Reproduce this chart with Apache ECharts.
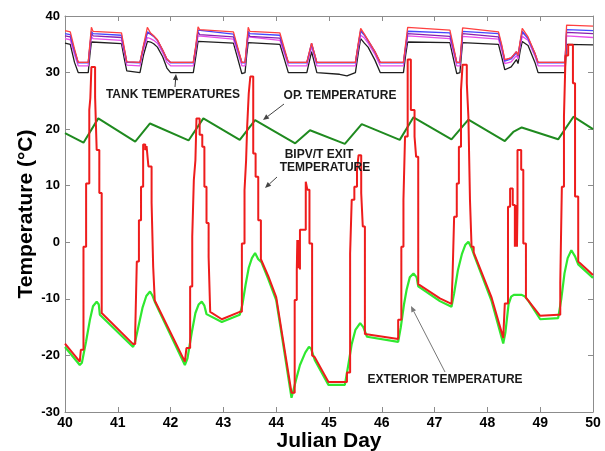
<!DOCTYPE html>
<html>
<head>
<meta charset="UTF-8">
<title>BIPV/T temperatures</title>
<style>
  html, body { margin: 0; padding: 0; background: #fff; }
  #main { width: 605px; height: 451px; }
</style>
</head>
<body>
<div id="main"></div>
<script src="https://cdn.jsdelivr.net/npm/echarts@6.0.0/dist/echarts.min.js"></script>
<script>
// tank temperatures share one day grid
var tankDay = [
  40.00, 40.10, 40.18, 40.25, 40.44, 40.47, 40.50, 40.53, 41.07, 41.12,
  41.17, 41.20, 41.42, 41.49, 41.56, 41.62, 41.68, 41.75, 41.85, 41.93,
  42.00, 42.43, 42.48, 42.52, 42.55, 43.19, 43.27, 43.35, 43.41, 43.44,
  43.47, 43.50, 44.07, 44.15, 44.23, 44.58, 44.67, 44.77, 45.20, 45.34,
  45.50, 45.56, 45.60, 45.67, 45.74, 45.87, 45.97, 46.41, 46.45, 46.49,
  47.29, 47.36, 47.42, 47.48, 47.51, 47.53, 48.21, 48.27, 48.33, 48.45,
  48.55, 48.58, 48.62, 48.66, 48.77, 48.90, 48.96, 49.47, 49.50, 50.00
];
var tankRed = [
  37.4, 37.2, 34.2, 31.8, 31.8, 35.0, 38.0, 37.3, 37.0, 34.5,
  31.9, 31.8, 31.8, 35.0, 38.0, 37.0, 36.5, 35.8, 34.0, 32.4,
  31.8, 31.8, 35.0, 38.1, 37.6, 37.2, 34.5, 31.8, 31.8, 35.0,
  38.0, 37.3, 37.0, 34.4, 31.8, 31.8, 35.2, 31.8, 31.8, 31.8,
  31.8, 35.5, 37.8, 36.8, 35.7, 33.7, 31.8, 31.8, 35.0, 38.0,
  37.5, 34.5, 31.8, 31.8, 35.5, 37.9, 37.2, 35.0, 32.3, 32.6,
  33.7, 33.0, 35.5, 37.8, 36.3, 33.4, 31.8, 31.8, 38.4, 38.2
];
var tankBlue = [
  36.9, 36.7, 33.8, 31.7, 31.7, 34.6, 37.3, 36.9, 36.6, 34.2,
  31.8, 31.7, 31.7, 34.8, 37.2, 36.9, 36.4, 35.7, 33.9, 32.3,
  31.7, 31.7, 34.7, 37.5, 37.2, 36.8, 34.2, 31.7, 31.7, 34.6,
  37.3, 36.9, 36.6, 34.1, 31.7, 31.7, 35.0, 31.7, 31.7, 31.7,
  31.7, 35.2, 37.3, 36.6, 35.6, 33.6, 31.7, 31.7, 34.6, 37.3,
  37.0, 34.2, 31.7, 31.7, 35.0, 37.3, 36.9, 34.7, 32.0, 32.4,
  33.5, 32.9, 35.2, 37.3, 36.0, 33.3, 31.7, 31.7, 37.6, 37.4
];
var tankPurple = [
  36.5, 36.3, 33.9, 31.8, 31.8, 34.4, 37.0, 36.5, 36.2, 34.2,
  31.9, 31.8, 31.8, 34.7, 37.0, 36.8, 36.4, 35.7, 34.0, 32.4,
  31.8, 31.8, 34.6, 37.2, 36.7, 36.3, 34.2, 31.8, 31.8, 34.4,
  37.0, 36.4, 36.1, 34.0, 31.8, 31.8, 35.2, 31.8, 31.8, 31.8,
  31.8, 35.3, 37.5, 36.7, 35.7, 33.7, 31.8, 31.8, 34.4, 36.9,
  36.4, 34.1, 31.8, 31.8, 34.9, 36.9, 36.3, 34.6, 32.2, 32.6,
  33.7, 33.0, 35.3, 37.1, 36.1, 33.4, 31.8, 31.8, 37.1, 36.9
];
var tankMagenta = [
  36.0, 35.8, 33.2, 31.2, 31.2, 34.0, 36.4, 36.0, 35.7, 33.6,
  31.3, 31.2, 31.2, 34.2, 36.2, 36.0, 35.7, 35.2, 33.5, 31.8,
  31.2, 31.2, 34.1, 36.5, 36.2, 35.9, 33.6, 31.2, 31.2, 34.0,
  36.3, 36.0, 35.7, 33.5, 31.2, 31.2, 34.6, 31.2, 31.2, 31.2,
  31.2, 34.6, 36.6, 36.1, 35.2, 33.2, 31.2, 31.2, 34.0, 36.5,
  36.0, 33.5, 31.2, 31.2, 34.4, 36.4, 35.9, 34.0, 31.6, 31.9,
  33.0, 32.4, 34.6, 36.4, 35.7, 32.9, 31.2, 31.2, 36.5, 36.2
];
var tankBlack = [
  35.2, 35.0, 31.8, 30.0, 30.0, 33.0, 35.4, 35.3, 35.1, 32.6,
  30.3, 30.0, 30.0, 33.2, 35.5, 35.4, 35.1, 34.5, 32.8, 30.8,
  30.0, 30.0, 33.0, 35.5, 35.4, 35.2, 32.5, 29.8, 30.0, 33.0,
  35.3, 35.1, 35.0, 32.5, 30.0, 30.0, 33.7, 30.0, 29.7, 29.4,
  30.0, 33.8, 36.0, 35.2, 34.5, 32.2, 30.0, 30.0, 33.0, 35.4,
  35.3, 32.3, 29.8, 30.0, 33.3, 35.3, 35.0, 32.8, 30.5, 31.0,
  32.3, 31.6, 33.8, 35.5, 34.8, 31.8, 30.0, 30.0, 35.0, 34.9
];

// operative (room) temperature [day, degC]
var opTemp = [
  [40.00, 19.3], [40.35, 17.6], [40.63, 21.9], [41.33, 17.8], [41.61, 21.0],
  [42.34, 18.0], [42.62, 21.9], [43.31, 18.1], [43.60, 21.6], [44.36, 17.5],
  [44.64, 19.8], [45.30, 17.4], [45.62, 20.9], [46.34, 18.1], [46.60, 22.1],
  [47.32, 18.2], [47.64, 21.7], [48.33, 17.9], [48.49, 19.5], [48.65, 20.3],
  [49.34, 18.2], [49.63, 22.2], [50.00, 20.0]
];

// exterior temperature [day, degC]
var extTemp = [
  [40.00, -18.5], [40.28, -21.7], [40.32, -21.3], [40.40, -17.5], [40.47, -13.8],
  [40.53, -11.3], [40.60, -10.5], [40.64, -11.0], [40.66, -12.8], [41.29, -18.5],
  [41.33, -17.5], [41.40, -14.5], [41.47, -11.5], [41.54, -9.5], [41.61, -8.7],
  [41.66, -9.5], [41.70, -10.5], [42.27, -21.7], [42.32, -20.5], [42.40, -16.0],
  [42.47, -12.5], [42.53, -11.0], [42.59, -10.5], [42.64, -11.2], [42.68, -12.7],
  [42.97, -14.1], [43.31, -12.8], [43.36, -11.0], [43.42, -7.5], [43.48, -4.5],
  [43.54, -2.8], [43.60, -1.9], [43.66, -3.0], [43.72, -3.5], [43.85, -6.5],
  [44.00, -10.2], [44.13, -17.9], [44.29, -27.5], [44.32, -27.6], [44.37, -24.5],
  [44.45, -21.7], [44.55, -19.5], [44.62, -18.5], [44.66, -18.8], [44.73, -20.8],
  [44.99, -25.2], [45.30, -25.2], [45.36, -22.0], [45.43, -18.0], [45.50, -15.5],
  [45.59, -14.3], [45.65, -15.0], [45.72, -16.7], [46.31, -17.6], [46.36, -15.0],
  [46.42, -11.0], [46.47, -8.4], [46.53, -6.2], [46.60, -5.5], [46.66, -6.2],
  [46.69, -7.8], [47.10, -10.4], [47.32, -11.4], [47.37, -9.0], [47.44, -5.0],
  [47.52, -2.0], [47.58, -0.5], [47.64, 0.1], [47.70, -1.0], [47.75, -2.3],
  [48.08, -10.4], [48.30, -17.9], [48.34, -16.0], [48.40, -11.0], [48.45, -9.6],
  [48.50, -9.3], [48.65, -9.3], [48.71, -9.6], [48.78, -10.4], [49.00, -13.6],
  [49.34, -13.4], [49.40, -10.0], [49.46, -5.5], [49.52, -2.8], [49.59, -1.4],
  [49.66, -2.5], [49.72, -3.9], [50.00, -6.3]
];

// BIPV/T exit air temperature [day, degC], hourly steps
var exitTemp = [
  [40.00, -17.9], [40.28, -21.1], [40.30, -21.1], [40.30, -19.0], [40.35, -19.0],
  [40.35, -0.8], [40.40, -0.8], [40.40, 10.4], [40.46, 10.4], [40.46, 23.4],
  [40.48, 23.4], [40.48, 25.5], [40.50, 25.5], [40.50, 31.0], [40.57, 31.0],
  [40.57, 25.7], [40.60, 25.7], [40.60, 16.3], [40.65, 16.3], [40.65, 8.7],
  [40.695, 8.7], [40.695, -12.5],
  [41.29, -18.0], [41.33, -18.0], [41.33, -15.8], [41.36, -15.8], [41.36, -3.4],
  [41.40, -3.4], [41.40, 3.9], [41.44, 3.9], [41.44, 9.8], [41.48, 9.8],
  [41.48, 17.3], [41.52, 17.3], [41.52, 16.3], [41.545, 16.3], [41.545, 17.0],
  [41.58, 17.0], [41.58, 13.4], [41.64, 13.4], [41.64, 7.0], [41.67, 7.0],
  [41.67, -4.3], [41.70, -4.3], [41.70, -10.3],
  [42.27, -21.1], [42.30, -21.1], [42.30, -18.7], [42.37, -18.7], [42.37, -7.8],
  [42.41, -7.8], [42.41, 1.0], [42.44, 1.0], [42.44, 11.0], [42.47, 11.0],
  [42.47, 14.5], [42.49, 14.5], [42.49, 21.9], [42.55, 21.9], [42.55, 19.0],
  [42.60, 19.0], [42.60, 16.9], [42.64, 16.9], [42.64, 9.8], [42.68, 9.8],
  [42.68, 3.4], [42.72, 3.4], [42.72, -2.6], [42.75, -2.6], [42.75, -12.3],
  [42.97, -13.6], [43.31, -12.3], [43.35, -12.3], [43.35, -0.2], [43.40, -0.2],
  [43.40, 9.2], [43.43, 9.2], [43.43, 14.5], [43.45, 14.5], [43.45, 20.4],
  [43.48, 20.4], [43.48, 26.3], [43.51, 26.3], [43.51, 29.3], [43.565, 29.3],
  [43.565, 15.7], [43.61, 15.7], [43.61, 11.6], [43.66, 11.6], [43.66, 3.9],
  [43.71, 3.9], [43.71, -3.0],
  [43.85, -6.0], [44.00, -9.7], [44.13, -17.3], [44.29, -26.6], [44.35, -26.6],
  [44.35, -10.2], [44.39, -10.2], [44.39, -4.9], [44.40, 0.4], [44.41, -4.5],
  [44.42, 0.4], [44.43, -4.6], [44.44, 0.4], [44.45, -4.8], [44.45, 2.2],
  [44.56, 2.2], [44.56, 10.7], [44.59, 10.7], [44.59, 9.3], [44.63, 9.3],
  [44.63, -0.2], [44.68, -0.2], [44.68, -20.0],
  [44.73, -20.3], [44.99, -24.7], [45.34, -24.7], [45.34, -23.0], [45.40, -23.0],
  [45.40, -2.0], [45.43, -2.0], [45.43, 7.5], [45.48, 7.5], [45.48, 9.8],
  [45.53, 9.8], [45.53, 12.8], [45.56, 12.8], [45.56, 15.4], [45.61, 15.4],
  [45.61, 8.7], [45.64, 8.7], [45.64, 2.8], [45.68, 2.8], [45.68, -16.2],
  [46.31, -17.1], [46.31, -13.7], [46.37, -13.7], [46.37, -0.8], [46.41, -0.8],
  [46.41, 7.5], [46.44, 7.5], [46.44, 18.7], [46.49, 18.7], [46.49, 32.3],
  [46.55, 32.3], [46.55, 23.4], [46.62, 23.4], [46.62, 18.7], [46.65, 18.7],
  [46.65, 15.1], [46.69, 15.1], [46.69, -7.4],
  [47.10, -9.9], [47.32, -10.9], [47.34, -10.9], [47.34, -6.0], [47.37, -6.0],
  [47.37, 4.5], [47.42, 4.5], [47.42, 10.4], [47.46, 10.4], [47.46, 16.9],
  [47.50, 16.9], [47.50, 26.9], [47.53, 26.9], [47.53, 31.4], [47.61, 31.4],
  [47.61, 28.1], [47.64, 28.1], [47.64, 22.2], [47.67, 22.2], [47.67, 7.5],
  [47.70, 7.5], [47.70, -0.8], [47.74, -0.8], [47.74, -1.8],
  [48.08, -9.8], [48.30, -16.9], [48.33, -16.9], [48.33, -10.8], [48.39, -10.8],
  [48.39, 6.3], [48.43, 6.3], [48.43, 9.5], [48.48, 9.5], [48.48, 6.6],
  [48.52, 6.6], [48.52, -0.8], [48.53, 6.6], [48.54, -0.8], [48.55, 6.6],
  [48.56, -0.8], [48.57, 6.6], [48.57, 16.3], [48.64, 16.3], [48.64, 12.8],
  [48.68, 12.8], [48.68, -0.2], [48.73, -0.2], [48.73, -9.8],
  [49.00, -13.0], [49.34, -12.8], [49.38, -12.8], [49.38, -7.2], [49.41, -7.2],
  [49.41, 9.8], [49.45, 9.8], [49.45, 22.2], [49.48, 22.2], [49.48, 33.0],
  [49.53, 33.0], [49.53, 34.9], [49.62, 34.9], [49.62, 28.1], [49.66, 28.1],
  [49.66, 8.1], [49.72, 8.1], [49.72, -3.4], [50.00, -5.8]
];

var font = 'Liberation Sans';

function pairs(days, vals) {
  return days.map(function (d, i) { return [d, vals[i]]; });
}

function line(name, data, color, width, z) {
  return {
    name: name, type: 'line', data: data, showSymbol: false, symbol: 'none',
    lineStyle: { color: color, width: width }, z: z, silent: true
  };
}

// small annotation arrow, head at (x2, y2)
function arrow(x1, y1, x2, y2, color) {
  var a = Math.atan2(y2 - y1, x2 - x1), L = 6, W = 2.6;
  var bx = x2 - L * Math.cos(a), by = y2 - L * Math.sin(a);
  return [
    { type: 'line', shape: { x1: x1, y1: y1, x2: bx, y2: by }, style: { stroke: color, lineWidth: 1 }, z: 50 },
    { type: 'polygon', shape: { points: [[x2, y2],
        [bx + W * Math.sin(a), by - W * Math.cos(a)],
        [bx - W * Math.sin(a), by + W * Math.cos(a)]] }, style: { fill: color }, z: 50 }
  ];
}

function label(text, x, y) {
  return { type: 'text', z: 50, style: { text: text, x: x, y: y, align: 'center', verticalAlign: 'middle',
    fontSize: 12, fontWeight: 'bold', fontFamily: font, fill: '#1a1a1a' } };
}

var axisGray = '#8c8c8c';
var titleStyle = { color: '#000', fontSize: 21, fontWeight: 'bold', fontFamily: font };

var chart = echarts.init(document.getElementById('main'));
chart.setOption({
  animation: false,
  backgroundColor: '#fff',
  grid: { left: 65, right: 12, top: 16, bottom: 39, containLabel: false, outerBoundsMode: 'none' },
  xAxis: [{
    type: 'value', min: 40, max: 50, interval: 1, position: 'bottom',
    name: 'Julian Day', nameLocation: 'middle', nameGap: 19, nameMoveOverlap: false,
    nameTextStyle: titleStyle,
    axisLine: { show: true, onZero: false, lineStyle: { color: axisGray } },
    axisTick: { show: true, inside: true, length: 5, lineStyle: { color: axisGray } },
    axisLabel: { margin: 4, showMinLabel: true, showMaxLabel: true,
      color: '#000', fontSize: 14, fontWeight: 'bold', fontFamily: font },
    splitLine: { show: false }
  }, {
    type: 'value', min: 40, max: 50, interval: 1, position: 'top',
    axisLine: { show: true, onZero: false, lineStyle: { color: axisGray } },
    axisTick: { show: true, inside: true, length: 5, lineStyle: { color: axisGray } },
    axisLabel: { show: false }, splitLine: { show: false }
  }],
  yAxis: [{
    type: 'value', min: -30, max: 40, interval: 10, position: 'left',
    name: 'Temperature (°C)', nameLocation: 'middle', nameGap: 28, nameMoveOverlap: false,
    nameTextStyle: titleStyle,
    axisLine: { show: true, onZero: false, lineStyle: { color: axisGray } },
    axisTick: { show: true, inside: true, length: 5, lineStyle: { color: axisGray } },
    axisLabel: { margin: 5, showMinLabel: true, showMaxLabel: true,
      color: '#000', fontSize: 13, fontWeight: 'bold', fontFamily: font },
    splitLine: { show: false }
  }, {
    type: 'value', min: -30, max: 40, interval: 10, position: 'right',
    axisLine: { show: true, onZero: false, lineStyle: { color: axisGray } },
    axisTick: { show: true, inside: true, length: 5, lineStyle: { color: axisGray } },
    axisLabel: { show: false }, splitLine: { show: false }
  }],
  series: [
    line('Tank black', pairs(tankDay, tankBlack), '#1e1e1e', 1.3, 2),
    line('Tank magenta', pairs(tankDay, tankMagenta), '#e84ce8', 1.3, 3),
    line('Tank purple', pairs(tankDay, tankPurple), '#8a1fb0', 1.3, 4),
    line('Tank blue', pairs(tankDay, tankBlue), '#4646ff', 1.3, 5),
    line('Tank red', pairs(tankDay, tankRed), '#ff4040', 1.3, 6),
    line('Op. temperature', opTemp, '#1f8a1f', 2, 7),
    line('Exterior temperature', extTemp, '#2fe82f', 2.2, 8),
    line('BIPV/T exit temperature', exitTemp, '#ee1c1c', 2, 9)
  ],
  graphic: [
    label('TANK TEMPERATURES', 173, 95),
    label('OP. TEMPERATURE', 340, 96),
    label('BIPV/T EXIT', 319, 155),
    label('TEMPERATURE', 325, 168),
    label('EXTERIOR TEMPERATURE', 445, 380)
  ].concat(
    arrow(175, 87, 176, 74, '#333'),
    arrow(284, 104, 263, 120, '#444'),
    arrow(277, 177, 265, 188, '#444'),
    arrow(445, 372, 411, 306, '#777')
  )
});
</script>
</body>
</html>
